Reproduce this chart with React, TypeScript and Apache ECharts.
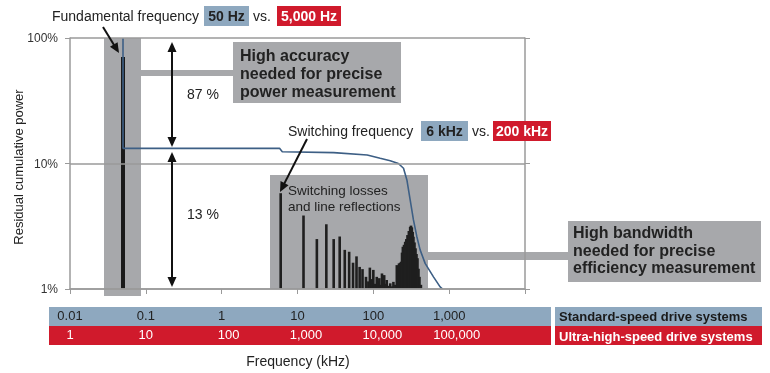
import React, { useEffect, useRef } from "react";
import * as echarts from "echarts";

// ---------- data ----------
const fundamentalFreq = [0.05]; // kHz (standard-speed scale)
const fundamentalPct = [70.6];

const harmonicFreq = [
  6, 12, 18, 24, 30, 36, 42, 48, 54, 60, 66, 72, 80, 86, 90, 95, 100, 105, 111, 115, 120, 125, 130, 139, 145, 150,
  158, 167, 175, 184, 195, 204, 211, 218, 226, 233, 239, 245, 254, 263, 272, 282, 294, 306, 314, 322, 330, 338, 349,
  360, 371, 382, 394, 406, 424,
];
const harmonicPct = [
  5.8, 3.85, 2.5, 3.28, 2.5, 2.62, 2.05, 1.98, 1.62, 1.82, 1.5, 1.44, 1.25, 1.15, 1.48, 1.2, 1.42, 1.1, 1.25, 1.15,
  1.22, 1.08, 1.33, 1.29, 1.1, 1.18, 1.06, 1.11, 1.05, 1.14, 1.08, 1.55, 1.5, 1.6, 1.62, 1.65, 1.95, 2.17, 2.25,
  2.38, 2.5, 2.69, 2.9, 3.13, 3.2, 3.1, 2.85, 2.61, 2.35, 2.11, 1.9, 1.76, 1.45, 1.25, 1.08,
];

const residualFreq = [0.05, 0.05, 5.8, 6.3, 30, 83, 123, 167, 214, 250, 277, 306, 338, 375, 414, 482, 621, 760, 821];
const residualPct = [100, 13.2, 13.2, 12.4, 12.2, 11.7, 11.0, 10.5, 10.0, 9.16, 7.39, 5.12, 3.55, 2.61, 2.05, 1.6, 1.25, 1.04, 1.0];

const standardTickLabels = ["0.01", "0.1", "1", "10", "100", "1,000", ""];
const ultraTickLabels = ["1", "10", "100", "1,000", "10,000", "100,000", ""];

// ---------- style ----------
const FONT = '"Liberation Sans", Arial, Helvetica, sans-serif';
const GRAY = "#a7a8ab";
const BLUE = "#8ea8bf";
const RED = "#d01a2c";
const LINE = "#3d5f85";
const AXIS = "#9a9a9a";
const TXT = "#222222";
// left spacer widths that shift the ultra-speed labels so they start where the standard labels start
const ultraLabelSpacer = [0, 0, 14, 17, 18, 15, 0];

function arrowHead(tx: number, ty: number, fx: number, fy: number) {
  const dx = tx - fx, dy = ty - fy;
  const L = Math.hypot(dx, dy);
  const ux = dx / L, uy = dy / L;
  const bx = tx - ux * 10, by = ty - uy * 10;
  return [
    [tx, ty],
    [bx - uy * 4.5, by + ux * 4.5],
    [bx + uy * 4.5, by - ux * 4.5],
  ];
}

function arrow(x1: number, y1: number, x2: number, y2: number, both: boolean) {
  const dx = x2 - x1, dy = y2 - y1;
  const L = Math.hypot(dx, dy);
  const ux = dx / L, uy = dy / L;
  const sx = both ? x1 + ux * 8 : x1, sy = both ? y1 + uy * 8 : y1;
  const ex = x2 - ux * 8, ey = y2 - uy * 8;
  const els: any[] = [
    { type: "line", z: 20, shape: { x1: sx, y1: sy, x2: ex, y2: ey }, style: { stroke: "#111", lineWidth: 2 } },
    { type: "polygon", z: 20, shape: { points: arrowHead(x2, y2, x1, y1) }, style: { fill: "#111" } },
  ];
  if (both) els.push({ type: "polygon", z: 20, shape: { points: arrowHead(x1, y1, x2, y2) }, style: { fill: "#111" } });
  return els;
}

function txt(text: string, x: number, y: number, opts: any = {}) {
  const align = opts.align || "left";
  return {
    type: "text",
    z: 20,
    x,
    y,
    rotation: opts.rotation || 0,
    style: {
      text,
      font: opts.font || `14px ${FONT}`,
      fill: opts.fill || TXT,
      textAlign: align,
      align,
      textVerticalAlign: opts.valign || "middle",
      verticalAlign: opts.valign || "middle",
      lineHeight: opts.lineHeight,
    },
  };
}

function rect(x: number, y: number, w: number, h: number, fill: string, z = 0) {
  return { type: "rect", z, shape: { x, y, width: w, height: h }, style: { fill } };
}

function spikeRenderer(width: number, color: string) {
  return (params: any, api: any) => {
    const f = api.value(0);
    const v = api.value(1);
    const top = api.coord([f, v]);
    const base = api.coord([f, 1]);
    return {
      type: "rect",
      shape: { x: top[0] - width / 2, y: top[1], width, height: base[1] - top[1] },
      style: { fill: color },
    };
  };
}

export default function App() {
  const ref = useRef<HTMLDivElement>(null);
  useEffect(() => {
    if (!ref.current) return;
    const chart = echarts.init(ref.current, undefined, { renderer: "svg" });

    const graphics: any[] = [
      // gray highlight elements
      rect(104, 38, 37, 258, GRAY),
      rect(141, 70, 92, 6, GRAY),
      rect(233, 42, 168, 61, GRAY),
      rect(270, 175, 158, 114, GRAY),
      rect(428, 252, 140, 8, GRAY),
      rect(568, 221, 193, 61, GRAY),
      // table bands
      rect(49, 307, 502, 19, BLUE),
      rect(49, 326, 502, 19, RED),
      rect(555, 307, 207, 19, BLUE),
      rect(555, 326, 207, 19, RED),
      // headers
      txt("Fundamental frequency", 52, 16),
      rect(204, 6, 45, 20, BLUE, 15),
      txt("50 Hz", 226.5, 16, { align: "center", font: `bold 14px ${FONT}` }),
      txt("vs.", 253, 16),
      rect(277, 6, 64, 20, RED, 15),
      txt("5,000 Hz", 309, 16, { align: "center", font: `bold 14px ${FONT}`, fill: "#fff" }),
      txt("Switching frequency", 288, 131),
      rect(421, 121, 47, 20, BLUE, 15),
      txt("6 kHz", 444.5, 131, { align: "center", font: `bold 14px ${FONT}` }),
      txt("vs.", 472, 131),
      rect(493, 121, 58, 20, RED, 15),
      txt("200 kHz", 522, 131, { align: "center", font: `bold 14px ${FONT}`, fill: "#fff" }),
      // box texts
      txt("High accuracy\nneeded for precise\npower measurement", 240, 46, {
        font: `bold 16px ${FONT}`,
        valign: "top",
        lineHeight: 18,
      }),
      txt("High bandwidth\nneeded for precise\nefficiency measurement", 573, 224, {
        font: `bold 16px ${FONT}`,
        valign: "top",
        lineHeight: 17.5,
      }),
      txt("Switching losses", 288, 190, { font: `13.5px ${FONT}` }),
      txt("and line reflections", 288, 206, { font: `13.5px ${FONT}` }),
      txt("87 %", 187, 94),
      txt("13 %", 187, 214),
      // axis titles
      txt("Residual cumulative power", 18, 167, { align: "center", rotation: Math.PI / 2, font: `13px ${FONT}` }),
      txt("Frequency (kHz)", 298, 361, { align: "center" }),
      // legend-like row labels
      txt("Standard-speed drive systems", 559, 316.5, { font: `bold 13px ${FONT}`, fill: "#1a1a1a" }),
      txt("Ultra-high-speed drive systems", 559, 336, { font: `bold 13px ${FONT}`, fill: "#fff" }),
      // arrows
      ...arrow(172, 42, 172, 147, true),
      ...arrow(172, 152, 172, 287, true),
      ...arrow(103, 27, 119, 53, false),
      ...arrow(307, 139, 280, 192, false),
    ];

    const rich: any = { t: { color: "#ffffff", fontSize: 13, fontFamily: FONT } };
    ultraLabelSpacer.forEach((w, i) => {
      rich["s" + i] = { width: w, fontSize: 13 };
    });

    chart.setOption({
      animation: false,
      textStyle: { fontFamily: FONT },
      grid: { left: 70, right: 245, top: 38, bottom: 84, containLabel: false },
      xAxis: [
        {
          type: "log",
          logBase: 10,
          min: 0.01,
          max: 10000,
          z: 5,
          axisLine: { show: true, lineStyle: { color: AXIS, width: 1.5 } },
          axisTick: { show: true, length: 5, lineStyle: { color: AXIS } },
          splitLine: { show: false },
          minorTick: { show: false },
          axisLabel: {
            margin: 20,
            color: TXT,
            fontSize: 13,
            formatter: (v: number) => standardTickLabels[Math.round(Math.log10(v)) + 2] ?? "",
          },
        },
        {
          type: "log",
          logBase: 10,
          min: 1,
          max: 1000000,
          position: "bottom",
          z: 5,
          axisLine: { show: false },
          axisTick: { show: false },
          splitLine: { show: false },
          axisLabel: {
            margin: 39,
            color: "#ffffff",
            fontSize: 13,
            rich,
            formatter: (v: number) => {
              const i = Math.round(Math.log10(v));
              const label = ultraTickLabels[i] ?? "";
              if (!label) return "";
              const s = ultraLabelSpacer[i] || 0;
              return s > 0 ? `{s${i}| }{t|${label}}` : `{t|${label}}`;
            },
          },
        },
      ],
      yAxis: [
        {
          type: "log",
          logBase: 10,
          min: 1,
          max: 100,
          z: 5,
          axisLine: { show: true, lineStyle: { color: AXIS, width: 1.5 } },
          axisTick: { show: true, length: 5, lineStyle: { color: AXIS } },
          splitLine: { show: true, lineStyle: { color: AXIS, width: 1.5 } },
          axisLabel: { margin: 12, color: "#333", fontSize: 12, formatter: (v: number) => `${Math.round(v)}%` },
        },
        {
          type: "log",
          logBase: 10,
          min: 1,
          max: 100,
          position: "right",
          z: 5,
          axisLine: { show: true, lineStyle: { color: AXIS, width: 1.5 } },
          axisTick: { show: true, length: 5, lineStyle: { color: AXIS } },
          splitLine: { show: false },
          axisLabel: { show: false },
        },
      ],
      series: [
        {
          type: "custom",
          z: 3,
          xAxisIndex: 0,
          yAxisIndex: 0,
          renderItem: spikeRenderer(4, "#1a1a1a"),
          encode: { x: 0, y: 1 },
          data: fundamentalFreq.map((f, i) => [f, fundamentalPct[i]]),
        },
        {
          type: "custom",
          z: 3,
          xAxisIndex: 0,
          yAxisIndex: 0,
          renderItem: spikeRenderer(2.6, "#1f1f1f"),
          encode: { x: 0, y: 1 },
          data: harmonicFreq.map((f, i) => [f, harmonicPct[i]]),
        },
        {
          type: "line",
          z: 4,
          xAxisIndex: 0,
          yAxisIndex: 0,
          showSymbol: false,
          symbol: "none",
          lineStyle: { color: LINE, width: 1.6 },
          data: residualFreq.map((f, i) => [f, residualPct[i]]),
        },
      ],
      graphic: { elements: graphics },
    });
    return () => chart.dispose();
  }, []);
  return <div ref={ref} style={{ position: "fixed", left: 0, top: 0, width: 770, height: 373 }} />;
}
